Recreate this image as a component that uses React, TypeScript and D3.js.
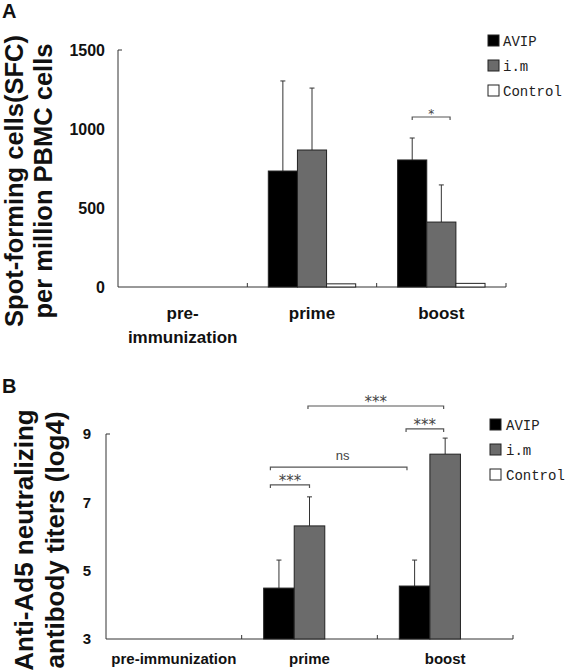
import React from "react";
import * as d3 from "d3";

// ---------- data ----------
const categories = ["pre-immunization", "prime", "boost"];
const catLabelsA = [["pre-", "immunization"], ["prime"], ["boost"]];
const catLabelsB = [["pre-immunization"], ["prime"], ["boost"]];
const series = ["AVIP", "i.m", "Control"];
const seriesColors = ["#000000", "#6b6b6b", "#ffffff"];

// Panel A: SFC per million PBMC
const avipA = [0, 734, 804];
const imA = [0, 867, 411];
const controlA = [0, 20, 23];
const avipErrA = [0, 570, 139];
const imErrA = [0, 392, 235];
const controlErrA = [0, 0, 0];
const ticksA = [0, 500, 1000, 1500];

// Panel B: neutralizing antibody titers (log4)
const avipB = [3, 4.49, 4.55];
const imB = [3, 6.31, 8.41];
const controlB = [3, 3, 3];
const avipErrB = [0, 0.82, 0.76];
const imErrB = [0, 0.85, 0.47];
const controlErrB = [0, 0, 0];
const ticksB = [3, 5, 7, 9];

// significance brackets: [category, series, fraction within bar]
const sigA = [
  { from: ["boost", "AVIP", 0.5], to: ["boost", "i.m", 0.8], y: 1076, label: "*" },
];
const sigB = [
  { from: ["prime", "i.m", 0.45], to: ["boost", "i.m", 0.45], y: 9.82, label: "***" },
  { from: ["boost", "AVIP", 0.22], to: ["boost", "i.m", 0.45], y: 9.15, label: "***" },
  { from: ["prime", "AVIP", 0.22], to: ["boost", "AVIP", 0.25], y: 8.03, label: "ns" },
  { from: ["prime", "AVIP", 0.22], to: ["prime", "i.m", 0.5], y: 7.51, label: "***" },
];

const SANS = "'Liberation Sans', Arial, sans-serif";
const MONO = "'Liberation Mono', 'DejaVu Sans Mono', monospace";

type PanelProps = {
  letter: string;
  letterY: number;
  titleLines: string[];
  titleX: number[];
  titleCY: number;
  titleFont: number;
  xRange: [number, number];
  yRange: [number, number];
  domain: [number, number];
  ticks: number[];
  tickFont: number;
  tickRight: number;
  labels: string[][];
  labelFont: number;
  labelY: number;
  values: number[][];
  errors: number[][];
  sig: any[];
  starFont: number;
  legendX: number;
  legendTextX: number;
  legendY: number[];
};

function Panel(p: PanelProps) {
  const x = d3.scaleBand<string>().domain(categories).range(p.xRange).paddingInner(0).paddingOuter(0);
  const xs = d3.scaleBand<string>().domain(series).range([0, x.bandwidth()]).paddingInner(0).paddingOuter(0.72);
  const y = d3.scaleLinear().domain(p.domain).range(p.yRange);
  const y0 = y(p.domain[0]);
  const bw = xs.bandwidth();
  const barX = (c: string, s: string) => (x(c) as number) + (xs(s) as number);

  return (
    <g>
      <text x={2} y={p.letterY} fontFamily={SANS} fontWeight="bold" fontSize={20} fill="#111">{p.letter}</text>
      {p.titleLines.map((t, i) => (
        <text key={i} transform={`translate(${p.titleX[i]},${p.titleCY}) rotate(-90)`} textAnchor="middle"
          fontFamily={SANS} fontWeight="bold" fontSize={p.titleFont} fill="#111">{t}</text>
      ))}
      {/* y axis */}
      <line x1={p.xRange[0]} x2={p.xRange[0]} y1={y0} y2={p.yRange[1]} stroke="#333" strokeWidth={1} />
      <line x1={p.xRange[0]} x2={p.xRange[0] + 4} y1={p.yRange[1]} y2={p.yRange[1]} stroke="#333" strokeWidth={1} />
      {p.ticks.map((t) => (
        <text key={t} x={p.tickRight} y={y(t)} dy="0.36em" textAnchor="end" fontFamily={SANS}
          fontWeight="bold" fontSize={p.tickFont} fill="#111">{t}</text>
      ))}
      {/* x axis */}
      <line x1={p.xRange[0]} x2={p.xRange[1]} y1={y0} y2={y0} stroke="#333" strokeWidth={1} />
      {categories.map((c) => {
        const xe = (x(c) as number) + x.bandwidth();
        return <line key={c} x1={xe} x2={xe} y1={y0} y2={y0 - 4} stroke="#333" strokeWidth={1} />;
      })}
      {categories.map((c, ci) =>
        p.labels[ci].map((l, li) => (
          <text key={c + li} x={(x(c) as number) + x.bandwidth() / 2} y={p.labelY + li * 24} textAnchor="middle"
            fontFamily={SANS} fontWeight="bold" fontSize={p.labelFont} fill="#111">{l}</text>
        ))
      )}
      {/* bars */}
      {series.map((s, si) =>
        categories.map((c, ci) => {
          const v = p.values[si][ci];
          if (v <= p.domain[0]) return null;
          const bx = barX(c, s);
          const top = y(v);
          const e = p.errors[si][ci];
          const cx = bx + bw / 2;
          return (
            <g key={s + c}>
              {e > 0 && (
                <g stroke="#333" strokeWidth={1}>
                  <line x1={cx} x2={cx} y1={top} y2={y(v + e)} />
                  <line x1={cx - 2.5} x2={cx + 2.5} y1={y(v + e)} y2={y(v + e)} />
                </g>
              )}
              <rect x={bx} y={top} width={bw} height={y0 - top} fill={seriesColors[si]} stroke="#222" strokeWidth={1} />
            </g>
          );
        })
      )}
      {/* significance */}
      {p.sig.map((b, i) => {
        const x1 = barX(b.from[0], b.from[1]) + bw * b.from[2];
        const x2 = barX(b.to[0], b.to[1]) + bw * b.to[2];
        const yy = y(b.y);
        const isNs = b.label === "ns";
        return (
          <g key={i}>
            <path d={`M${x1},${yy + 3}V${yy}H${x2}V${yy + 3}`} fill="none" stroke="#555" strokeWidth={1.2} />
            <text x={(x1 + x2) / 2 + (isNs ? 4 : 0)} y={isNs ? yy - 7 : yy + 1} textAnchor="middle"
              fontFamily={isNs ? SANS : "'DejaVu Sans', sans-serif"} fontSize={isNs ? 13 : p.starFont}
              fill="#444">{b.label}</text>
          </g>
        );
      })}
      {/* legend */}
      {series.map((s, si) => (
        <g key={s}>
          <rect x={p.legendX} y={p.legendY[si]} width={11} height={11} fill={seriesColors[si]} stroke="#222" strokeWidth={1} />
          <text x={p.legendTextX} y={p.legendY[si] + 11} fontFamily={MONO} fontSize={14} fill="#222">{s}</text>
        </g>
      ))}
    </g>
  );
}

export default function App() {
  return (
    <svg width={566} height={671} style={{ position: "absolute", left: 0, top: 0, background: "#fff" }}>
      <rect width={566} height={671} fill="#fff" />
      <Panel
        letter="A" letterY={18}
        titleLines={["Spot-forming cells(SFC)", "per million PBMC cells"]}
        titleX={[23, 52]} titleCY={181} titleFont={25.5}
        xRange={[118, 506]} yRange={[287, 50]} domain={[0, 1500]}
        ticks={ticksA} tickFont={16} tickRight={105}
        labels={catLabelsA} labelFont={17} labelY={319}
        values={[avipA, imA, controlA]} errors={[avipErrA, imErrA, controlErrA]}
        sig={sigA} starFont={12}
        legendX={488} legendTextX={503}
        legendY={[35, 60, 85]}
      />
      <Panel
        letter="B" letterY={393}
        titleLines={["Anti-Ad5 neutralizing", "antibody titers (log4)"]}
        titleX={[33, 64]} titleCY={540} titleFont={26}
        xRange={[106, 513]} yRange={[639, 434]} domain={[3, 9]}
        ticks={ticksB} tickFont={15} tickRight={91}
        labels={catLabelsB} labelFont={15} labelY={664}
        values={[avipB, imB, controlB]} errors={[avipErrB, imErrB, controlErrB]}
        sig={sigB} starFont={15}
        legendX={490} legendTextX={506}
        legendY={[419, 444, 469]}
      />
    </svg>
  );
}
